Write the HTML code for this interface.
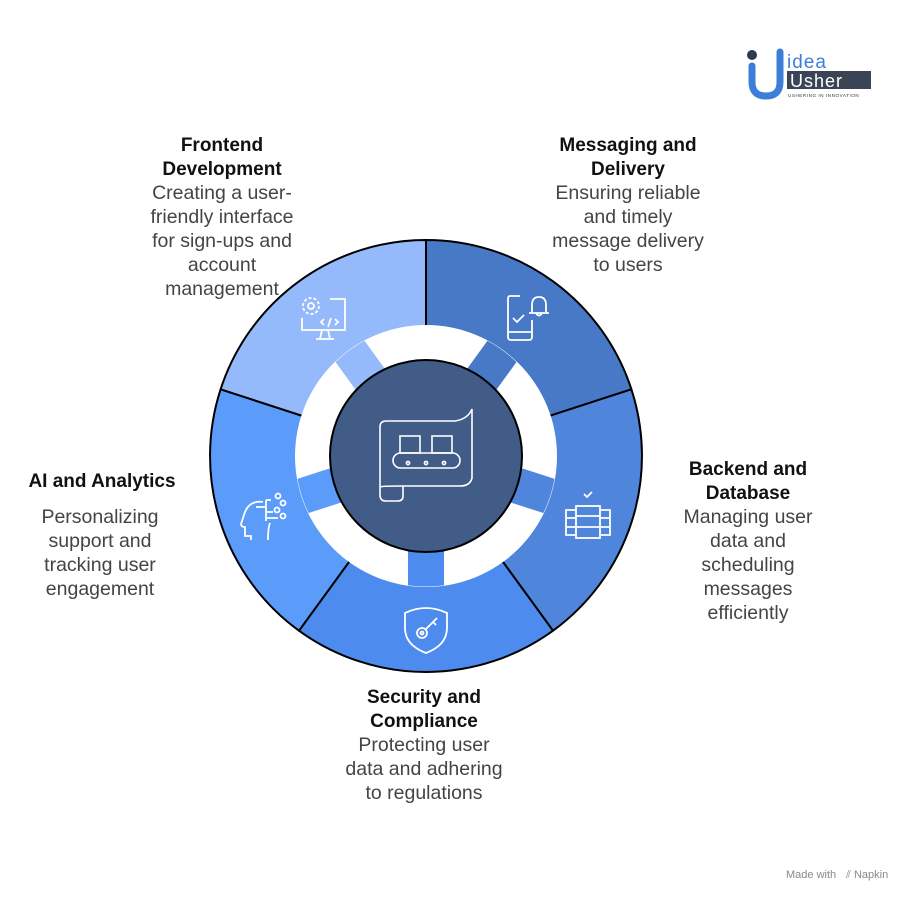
<!DOCTYPE html>
<html><head><meta charset="utf-8"><style>
body{margin:0;background:#fff;width:919px;height:902px;overflow:hidden;font-family:"Liberation Sans",sans-serif}
</style></head><body>
<svg width="919" height="902" viewBox="0 0 919 902" xmlns="http://www.w3.org/2000/svg" font-family="Liberation Sans, sans-serif">
<defs><clipPath id="c"><circle cx="426" cy="456" r="130.5"/></clipPath></defs>
<g stroke="#000" stroke-width="2" stroke-linejoin="round">
<path d="M426 456 L426 240 A216 216 0 0 1 631.4 389.3Z" fill="#4879c6"/>
<path d="M426 456 L631.4 389.3 A216 216 0 0 1 553 630.7Z" fill="#4f86dc"/>
<path d="M426 456 L553 630.7 A216 216 0 0 1 299 630.7Z" fill="#4d8bee"/>
<path d="M426 456 L299 630.7 A216 216 0 0 1 220.6 389.3Z" fill="#5b9cfa"/>
<path d="M426 456 L220.6 389.3 A216 216 0 0 1 426 240Z" fill="#94bafc"/>
</g>
<circle cx="426" cy="456" r="131" fill="#fff"/>
<g clip-path="url(#c)">
<rect x="408" y="320" width="36" height="140" fill="#4879c6" transform="rotate(36 426 456)"/>
<rect x="408" y="320" width="36" height="140" fill="#4f86dc" transform="rotate(108 426 456)"/>
<rect x="408" y="320" width="36" height="140" fill="#4d8bee" transform="rotate(180 426 456)"/>
<rect x="408" y="320" width="36" height="140" fill="#5b9cfa" transform="rotate(252 426 456)"/>
<rect x="408" y="320" width="36" height="140" fill="#94bafc" transform="rotate(324 426 456)"/>
</g>
<circle cx="426" cy="456" r="96" fill="#405c87" stroke="#000" stroke-width="2"/>
<g fill="none" stroke="#fff" stroke-width="1.6">
<path d="M386 421 H455 Q468 419 472 409 V478 Q470 486 460 486 H403 V496 Q403 501 398 501 H386 Q380 501 380 495 V427 Q380 421 386 421Z"/>
<path d="M380 487 Q382 486 403 486"/>
<rect x="400" y="436" width="20" height="17"/><rect x="432" y="436" width="20" height="17"/>
<rect x="393" y="453" width="67" height="15" rx="7.5"/>
<circle cx="408" cy="463" r="1.6"/><circle cx="426" cy="463" r="1.6"/><circle cx="444" cy="463" r="1.6"/>
</g>
<g fill="none" stroke="#fff" stroke-width="1.8">
<circle cx="311" cy="306" r="3"/><circle cx="311" cy="306" r="8" stroke-dasharray="3 2"/>
<path d="M330 299 H345 V330 H302 V318"/><path d="M322 330 L320 339 M328 330 L330 339 M316 339 H334"/>
<path d="M324 319 l-3 3 3 3 M335 319 l3 3 -3 3 M331 318 l-3 9"/>
</g>
<g fill="none" stroke="#fff" stroke-width="1.8">
<path d="M520 296 H510 Q508 296 508 299 V337 Q508 340 511 340 H529 Q532 340 532 337 V320"/><path d="M508 332 H532"/>
<path d="M513 318 l4 4 7 -7"/>
<path d="M529 313 H549 M532 313 V305 Q532 297 539 297 Q546 297 546 305 V313 M536 313 Q539 318 542 313"/>
</g>
<g fill="none" stroke="#fff" stroke-width="1.8">
<rect x="576" y="506" width="24" height="32"/><path d="M576 516 H600 M576 527 H600"/>
<path d="M576 510 H566 V535 H576 M566 518 H576 M566 527 H576"/>
<path d="M600 510 H610 V535 H600 M600 518 H610 M600 527 H610"/>
<path d="M584 494 l3 3 5 -5"/>
</g>
<g fill="none" stroke="#fff" stroke-width="1.8">
<path d="M405 613 Q426 603 447 613 V628 Q447 645 426 653 Q405 645 405 628Z"/>
<circle cx="422" cy="633" r="5"/><circle cx="422" cy="633" r="1.5"/><path d="M426 629 L437 618 M433 622 L436 625"/>
</g>
<g fill="none" stroke="#fff" stroke-width="1.8">
<path d="M263 502 Q250 500 245 512 L241 524 Q241 527 245 527 V536 H251 V540"/>
<path d="M270 523 Q268 528 268 540"/>
<path d="M256 507 H266 M266 500 V521 M266 500 H271 M266 512 H273 M266 518 H278"/>
<circle cx="278" cy="496" r="2.5"/><circle cx="283" cy="503" r="2.5"/><circle cx="277" cy="510" r="2.5"/><circle cx="283" cy="516" r="2.5"/>
</g>
<g font-size="19" font-weight="bold" fill="#111" text-anchor="middle">
<text x="222" y="151">Frontend</text><text x="222" y="175">Development</text>
<text x="628" y="151">Messaging and</text><text x="628" y="175">Delivery</text>
<text x="748" y="475">Backend and</text><text x="748" y="499">Database</text>
<text x="102" y="487">AI and Analytics</text>
<text x="424" y="703">Security and</text><text x="424" y="727">Compliance</text>
</g>
<g font-size="19.5" fill="#444" text-anchor="middle">
<text x="222" y="199">Creating a user-</text><text x="222" y="223">friendly interface</text><text x="222" y="247">for sign-ups and</text><text x="222" y="271">account</text><text x="222" y="295">management</text>
<text x="628" y="199">Ensuring reliable</text><text x="628" y="223">and timely</text><text x="628" y="247">message delivery</text><text x="628" y="271">to users</text>
<text x="748" y="523">Managing user</text><text x="748" y="547">data and</text><text x="748" y="571">scheduling</text><text x="748" y="595">messages</text><text x="748" y="619">efficiently</text>
<text x="100" y="523">Personalizing</text><text x="100" y="547">support and</text><text x="100" y="571">tracking user</text><text x="100" y="595">engagement</text>
<text x="424" y="751">Protecting user</text><text x="424" y="775">data and adhering</text><text x="424" y="799">to regulations</text>
</g>
<circle cx="752" cy="55" r="5" fill="#2f3b4d"/>
<path d="M752 66 V82 Q752 96 766 96 Q780 96 780 82 V52" fill="none" stroke="#3d7fd8" stroke-width="7" stroke-linecap="round"/>
<text x="787" y="68" font-size="19" fill="#3d7fd8" letter-spacing="1">idea</text>
<rect x="787" y="71" width="84" height="18" fill="#3a4454"/>
<text x="790" y="87" font-size="18" fill="#fff" letter-spacing="1">Usher</text>
<text x="788" y="97" font-size="4.5" fill="#333" letter-spacing="0.6">USHERING IN INNOVATION</text>
<text x="786" y="878" font-size="11" fill="#888">Made with</text>
<text x="846" y="878" font-size="11" fill="#888">⫽ Napkin</text>
</svg>
</body></html>
